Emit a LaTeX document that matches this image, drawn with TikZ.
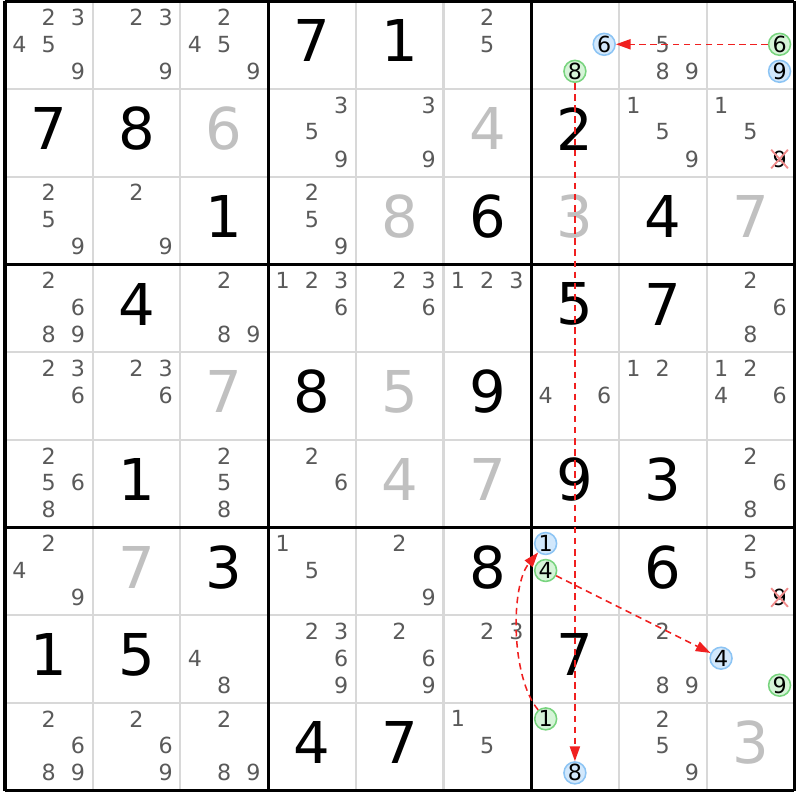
\documentclass[tikz,border=0pt]{standalone}
\usepackage{fontspec}
\setmainfont{DejaVu Sans}
\usetikzlibrary{arrows.meta,shapes.misc}

\definecolor{candgray}{HTML}{5A5A5A}
\definecolor{solvedgray}{HTML}{C0C0C0}
\definecolor{gridgray}{HTML}{D8D8D8}
\definecolor{ringblue}{HTML}{8CC4F4}
\definecolor{ringbluefill}{HTML}{D2E8FC}
\definecolor{ringgreen}{HTML}{78D47E}
\definecolor{ringgreenfill}{HTML}{D6F4D8}
\definecolor{chainred}{HTML}{F02020}
\definecolor{xred}{HTML}{F08C8C}

\newcommand\bigdigit{\fontsize{18.7}{20}\selectfont}
\newcommand\smalldigit{\fontsize{7.2}{8}\selectfont}

\tikzset{
	given/.style={font=\bigdigit, text=black, inner sep=0},
	solved/.style={font=\bigdigit, text=solvedgray, inner sep=0},
	cand/.style={font=\smalldigit, text=candgray, inner sep=0},
	bluering/.style={circle, draw=ringblue, fill=ringbluefill, line width=0.5pt, minimum size=0.25cm, inner sep=0, font=\smalldigit, text=black},
	greenring/.style={circle, draw=ringgreen, fill=ringgreenfill, line width=0.5pt, minimum size=0.25cm, inner sep=0, font=\smalldigit, text=black},
	struck/.style={cross out, draw=xred, line width=0.6pt, minimum size=0.17cm, inner sep=0, font=\smalldigit, text=black},
	chain/.style={draw=chainred, line width=0.5pt, dash pattern=on 2.1pt off 1.5pt, -{Triangle[length=4.8pt,width=3.3pt]}}
}

\def\given(#1,#2)#3{\node[given] at ({#2+0.5},{8.55-#1}) {#3};}
\def\solved(#1,#2)#3{\node[solved] at ({#2+0.5},{8.55-#1}) {#3};}
\def\cands(#1,#2)#3{\foreach \d in {#3} {\node[cand] at ({#2+0.165+0.3335*mod(\d-1,3)},{9-#1-0.18-0.308*floor((\d-1)/3)}) {\d};}}
\def\ring[#1](#2,#3)#4#5{\node[#1] (#5) at ({#3+0.165+0.3335*mod(#4-1,3)},{9-#2-0.18-0.308*floor((#4-1)/3)}) {#4};}
\def\crossed(#1,#2)#3{\node[struck] at ({#2+0.165+0.3335*mod(#3-1,3)},{9-#1-0.18-0.308*floor((#3-1)/3)}) {#3};}

\begin{document}
\begin{tikzpicture}
	%%%%% GRID %%%%%
	\useasboundingbox (-0.057,-0.105) rectangle (9.065,9.017);
	\fill[white] (-0.057,-0.105) rectangle (9.065,9.017);
	\draw[gridgray, line width=0.65pt] (0,0) grid (9,9);
	\draw[black, line width=1pt, step=3] (0,0) grid (9,9);
	
	%%%%% ROW 0 %%%%%
	\cands(0,0){2,3,4,5,9}
	\cands(0,1){2,3,9}
	\cands(0,2){2,4,5,9}
	\given(0,3){7}
	\given(0,4){1}
	\cands(0,5){2,5}
	\ring[bluering](0,6){6}{r0c6six}
	\ring[greenring](0,6){8}{r0c6eight}
	\cands(0,7){5,8,9}
	\ring[greenring](0,8){6}{r0c8six}
	\ring[bluering](0,8){9}{r0c8nine}
	
	%%%%% ROW 1 %%%%%
	\given(1,0){7}
	\given(1,1){8}
	\solved(1,2){6}
	\cands(1,3){3,5,9}
	\cands(1,4){3,9}
	\solved(1,5){4}
	\given(1,6){2}
	\cands(1,7){1,5,9}
	\cands(1,8){1,5}
	\crossed(1,8){9}
	
	%%%%% ROW 2 %%%%%
	\cands(2,0){2,5,9}
	\cands(2,1){2,9}
	\given(2,2){1}
	\cands(2,3){2,5,9}
	\solved(2,4){8}
	\given(2,5){6}
	\solved(2,6){3}
	\given(2,7){4}
	\solved(2,8){7}
	
	%%%%% ROW 3 %%%%%
	\cands(3,0){2,6,8,9}
	\given(3,1){4}
	\cands(3,2){2,8,9}
	\cands(3,3){1,2,3,6}
	\cands(3,4){2,3,6}
	\cands(3,5){1,2,3}
	\given(3,6){5}
	\given(3,7){7}
	\cands(3,8){2,6,8}
	
	%%%%% ROW 4 %%%%%
	\cands(4,0){2,3,6}
	\cands(4,1){2,3,6}
	\solved(4,2){7}
	\given(4,3){8}
	\solved(4,4){5}
	\given(4,5){9}
	\cands(4,6){4,6}
	\cands(4,7){1,2}
	\cands(4,8){1,2,4,6}
	
	%%%%% ROW 5 %%%%%
	\cands(5,0){2,5,6,8}
	\given(5,1){1}
	\cands(5,2){2,5,8}
	\cands(5,3){2,6}
	\solved(5,4){4}
	\solved(5,5){7}
	\given(5,6){9}
	\given(5,7){3}
	\cands(5,8){2,6,8}
	
	%%%%% ROW 6 %%%%%
	\cands(6,0){2,4,9}
	\solved(6,1){7}
	\given(6,2){3}
	\cands(6,3){1,5}
	\cands(6,4){2,9}
	\given(6,5){8}
	\ring[bluering](6,6){1}{r6c6one}
	\ring[greenring](6,6){4}{r6c6four}
	\given(6,7){6}
	\cands(6,8){2,5}
	\crossed(6,8){9}
	
	%%%%% ROW 7 %%%%%
	\given(7,0){1}
	\given(7,1){5}
	\cands(7,2){4,8}
	\cands(7,3){2,3,6,9}
	\cands(7,4){2,6,9}
	\cands(7,5){2,3}
	\given(7,6){7}
	\cands(7,7){2,8,9}
	\ring[bluering](7,8){4}{r7c8four}
	\ring[greenring](7,8){9}{r7c8nine}
	
	%%%%% ROW 8 %%%%%
	\cands(8,0){2,6,8,9}
	\cands(8,1){2,6,9}
	\cands(8,2){2,8,9}
	\given(8,3){4}
	\given(8,4){7}
	\cands(8,5){1,5}
	\ring[greenring](8,6){1}{r8c6one}
	\ring[bluering](8,6){8}{r8c6eight}
	\cands(8,7){2,5,9}
	\solved(8,8){3}
	
	%%%%% CHAINS %%%%%
	\draw[chain] (r0c8six) -- (r0c6six);
	\draw[chain] (r0c6eight) -- (r8c6eight);
	\draw[chain] (r6c6four) -- (r7c8four);
	\draw[chain] (r8c6one) to[out=130, in=230, looseness=0.7] (r6c6one);
\end{tikzpicture}
\end{document}
